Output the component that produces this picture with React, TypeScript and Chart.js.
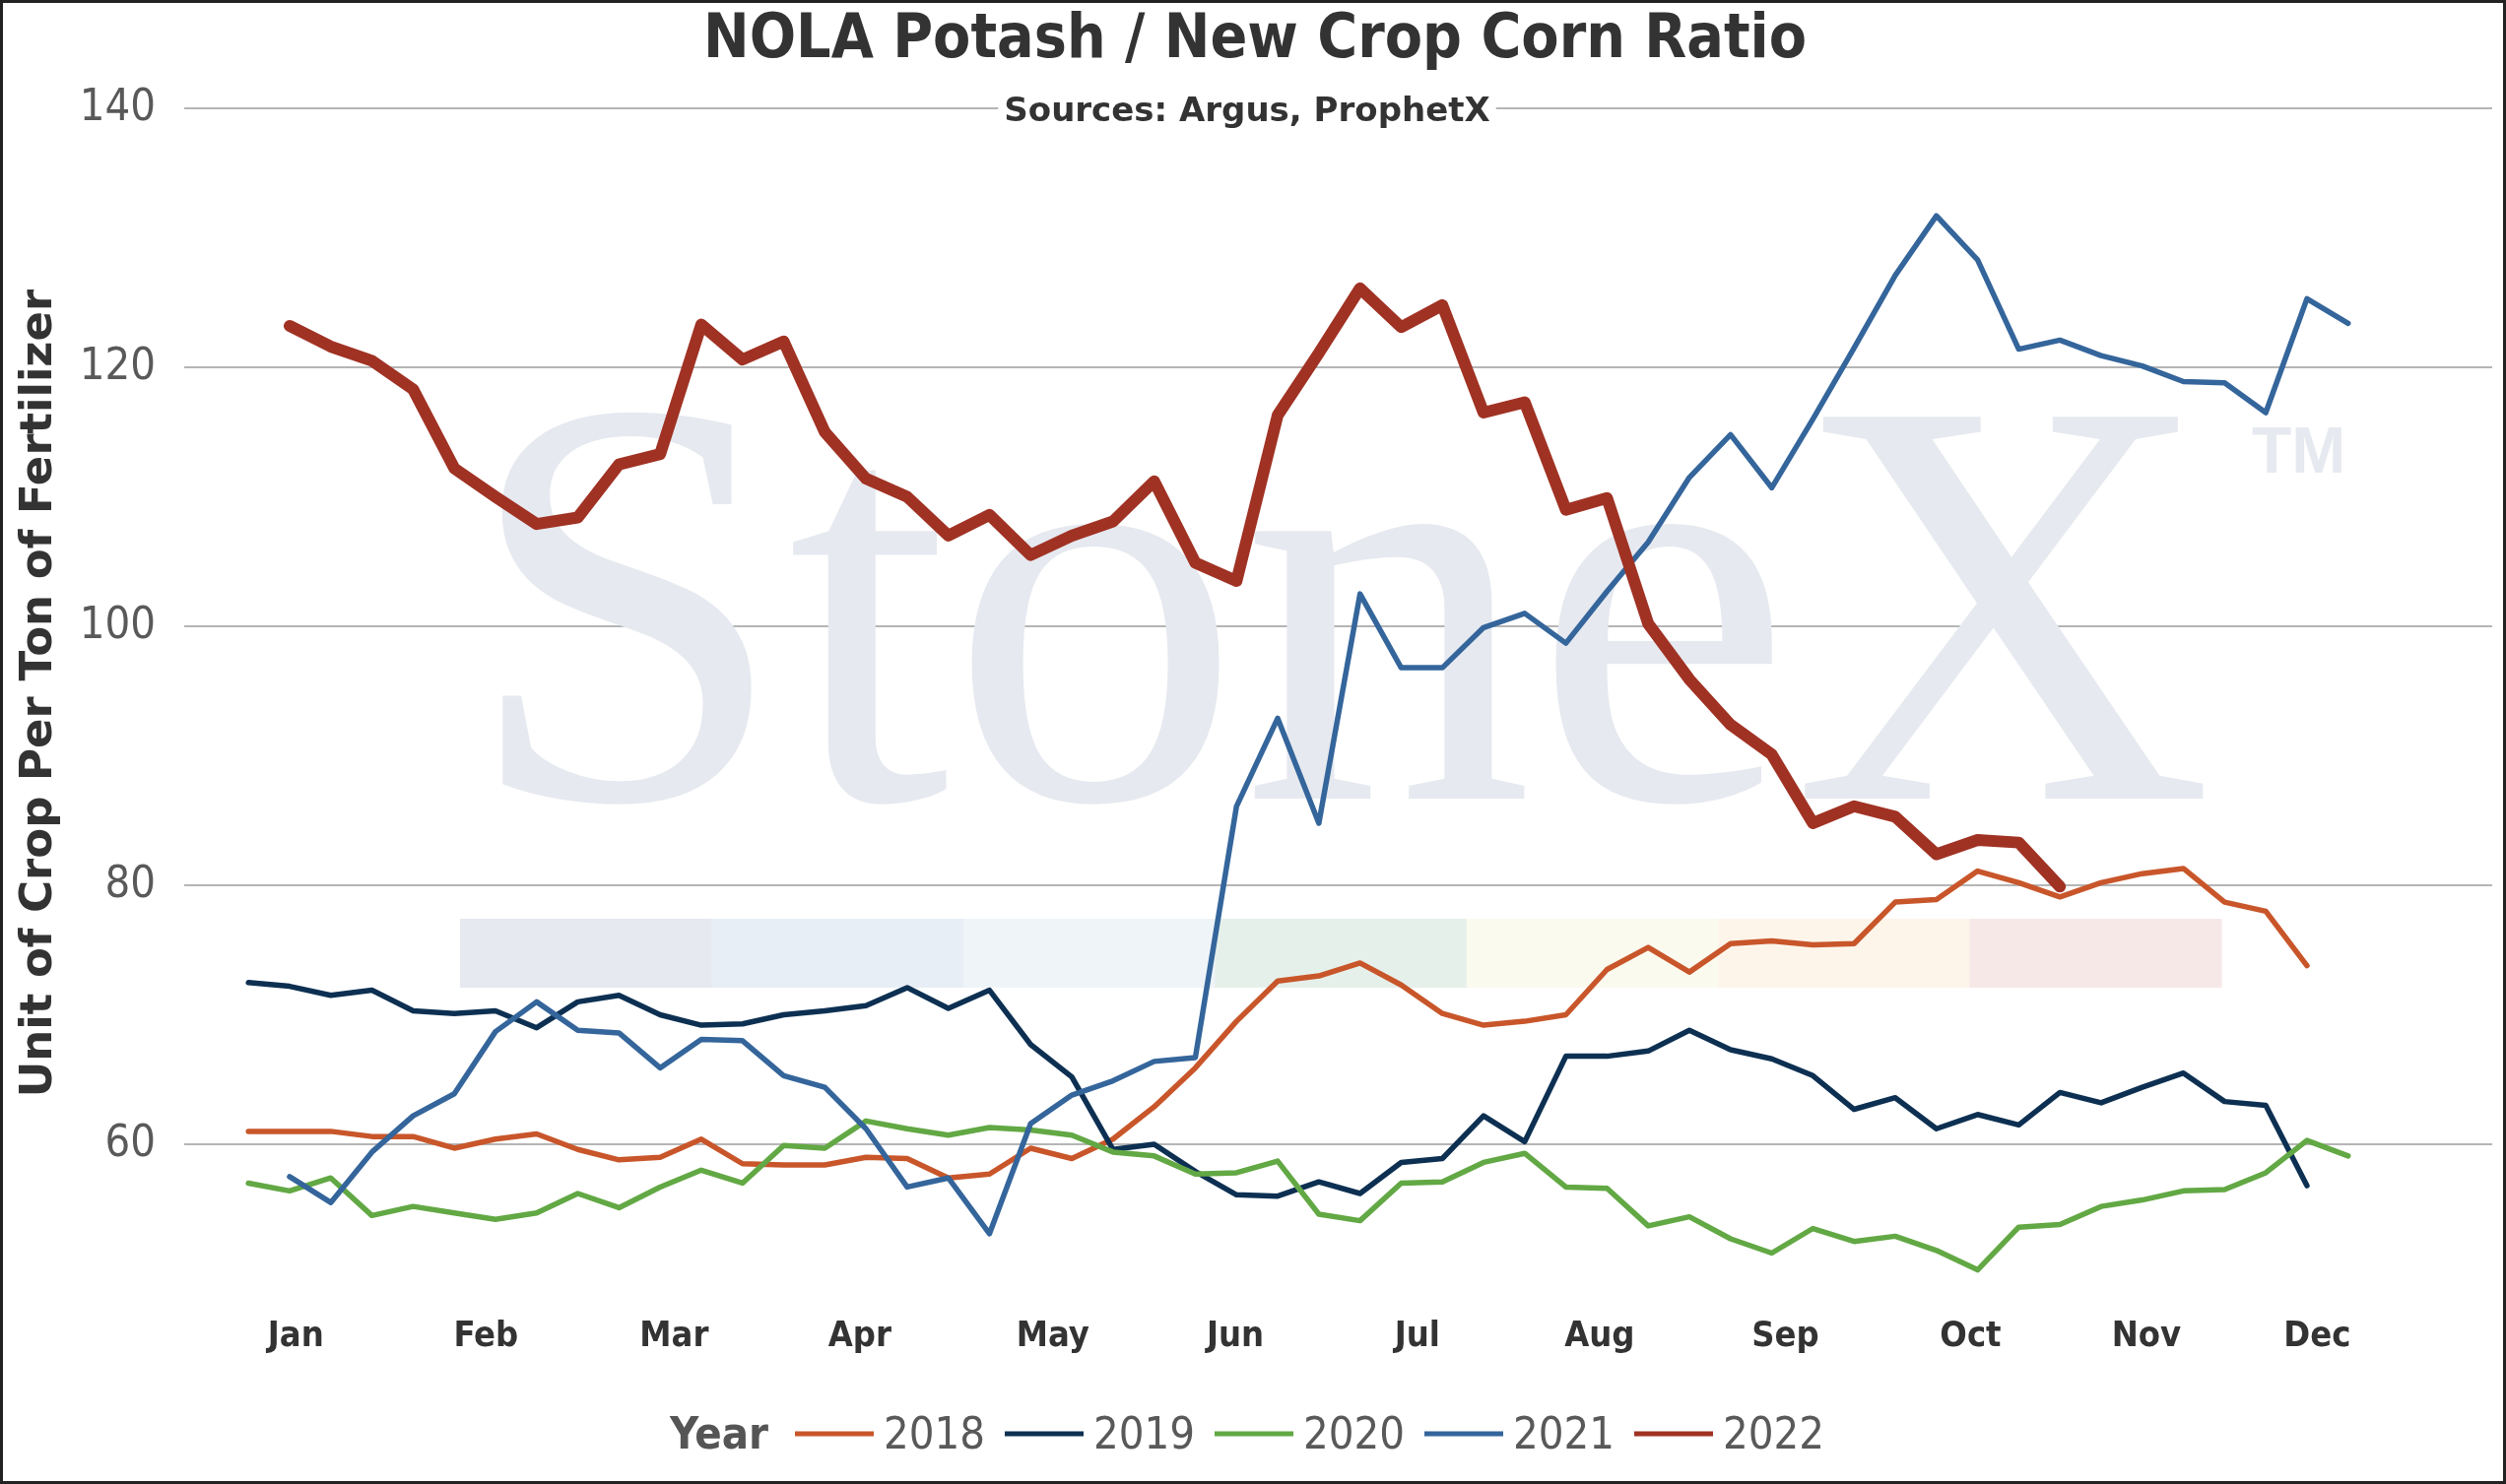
import React, { useEffect, useRef } from "react";
import { Chart, registerables } from "chart.js";
Chart.register(...registerables);

const MONTHS = ["Jan","Feb","Mar","Apr","May","Jun","Jul","Aug","Sep","Oct","Nov","Dec"];
const MONTH_POS = [1.15, 5.77, 10.34, 14.85, 19.54, 23.97, 28.39, 32.82, 37.33, 41.83, 46.1, 50.25];
const Y_TICKS = [60, 80, 100, 120, 140];
const YEARS = ["2018", "2019", "2020", "2021", "2022"];
const START_INDEX = [0, 0, 0, 1, 1];
const COLORS = ["#c8562a", "#0d3052", "#62a844", "#34659b", "#a03224"];
const WIDTHS = [5.5, 5.5, 5.5, 5.5, 12];

const s2018 = [61.0,61.0,61.0,60.6,60.6,59.7,60.4,60.8,59.6,58.8,59.0,60.4,58.5,58.4,58.4,59.0,58.9,57.4,57.7,59.7,58.9,60.4,62.9,65.9,69.5,72.6,73.0,74.0,72.3,70.1,69.2,69.5,70.0,73.5,75.2,73.3,75.5,75.7,75.4,75.5,78.7,78.9,81.1,80.2,79.1,80.2,80.9,81.3,78.7,78.0,73.8];
const s2019 = [72.5,72.2,71.5,71.9,70.3,70.1,70.3,69.0,71.0,71.5,70.0,69.2,69.3,70.0,70.3,70.7,72.1,70.5,71.9,67.7,65.2,59.6,60.0,57.9,56.1,56.0,57.1,56.2,58.6,58.9,62.2,60.2,66.8,66.8,67.2,68.8,67.3,66.6,65.3,62.7,63.6,61.2,62.3,61.5,64.0,63.2,64.4,65.5,63.3,63.0,56.8];
const s2020 = [57.0,56.4,57.4,54.5,55.2,54.7,54.2,54.7,56.2,55.1,56.7,58.0,57.0,59.9,59.7,61.8,61.2,60.7,61.3,61.1,60.7,59.4,59.1,57.7,57.8,58.7,54.6,54.1,57.0,57.1,58.6,59.3,56.7,56.6,53.7,54.4,52.7,51.6,53.5,52.5,52.9,51.8,50.3,53.6,53.8,55.2,55.7,56.4,56.5,57.8,60.3,59.1];
const s2021 = [57.5,55.5,59.4,62.2,63.9,68.7,71.0,68.8,68.6,65.9,68.1,68.0,65.3,64.4,61.2,56.7,57.4,53.1,61.6,63.8,64.9,66.4,66.7,86.1,92.9,84.8,102.5,96.8,96.8,99.9,101.0,98.7,102.7,106.5,111.5,114.8,110.7,116.0,121.5,127.1,131.7,128.3,121.4,122.1,120.9,120.1,118.9,118.8,116.5,125.3,123.4];
const s2022 = [123.2,121.6,120.5,118.3,112.2,110.0,107.9,108.4,112.5,113.3,123.3,120.6,122.0,115.0,111.4,110.0,107.0,108.6,105.5,107.0,108.1,111.2,104.9,103.5,116.3,121.1,126.1,123.1,124.8,116.5,117.3,109.0,109.9,100.2,95.9,92.4,90.1,84.8,86.1,85.3,82.4,83.5,83.3,79.9];
const SERIES = [s2018, s2019, s2020, s2021, s2022];

const BAND_COLORS = ["#e6e9ef", "#e8eef6", "#eff4f8", "#e6f0ea", "#fbfaef", "#fdf5ea", "#f7e8e8"];

const W = 2544, H = 1507;
const COND = '"DejaVu Sans Condensed", "DejaVu Sans", sans-serif';
const SANS = '"DejaVu Sans", sans-serif';

const bgPlugin = {
  id: "bg",
  beforeDatasetsDraw(chart: any) {
    const ctx = chart.ctx;
    ctx.save();
    ctx.fillStyle = "#e6e9ef";
    ctx.textBaseline = "alphabetic";
    ctx.textAlign = "left";
    let fs = 627;
    ctx.font = `${fs}px "Liberation Serif", "DejaVu Serif", serif`;
    const w = ctx.measureText("StoneX").width;
    fs = fs * 1777 / w;
    ctx.font = `${fs}px "Liberation Serif", "DejaVu Serif", serif`;
    ctx.fillText("StoneX", 470, 811);
    ctx.font = `bold 66px "Liberation Sans", sans-serif`;
    ctx.fillText("TM", 2286, 480);
    const x0 = 467, x1 = 2255, seg = (x1 - x0) / BAND_COLORS.length;
    BAND_COLORS.forEach((c, i) => {
      ctx.fillStyle = c;
      ctx.fillRect(x0 + seg * i, 933, seg + 0.5, 70);
    });
    ctx.restore();
  },
};

const textPlugin = {
  id: "texts",
  afterDraw(chart: any) {
    const ctx = chart.ctx;
    ctx.save();
    ctx.fillStyle = "#333333";
    ctx.textAlign = "center";
    ctx.textBaseline = "alphabetic";
    ctx.font = `bold 62px ${COND}`;
    ctx.fillText("NOLA Potash / New Crop Corn Ratio", 1274, 58);
    ctx.font = `bold 34px ${SANS}`;
    const sub = "Sources: Argus, ProphetX";
    const sw = ctx.measureText(sub).width;
    ctx.fillStyle = "#ffffff";
    ctx.fillRect(1266 - sw / 2 - 6, 92, sw + 12, 38);
    ctx.fillStyle = "#333333";
    ctx.fillText(sub, 1266, 123);
    ctx.save();
    ctx.translate(52, 704);
    ctx.rotate(-Math.PI / 2);
    ctx.font = `bold 45px ${SANS}`;
    ctx.fillText("Unit of Crop Per Ton of Fertilizer", 0, 0);
    ctx.restore();
    ctx.textAlign = "left";
    ctx.font = `bold 45px ${COND}`;
    ctx.fillStyle = "#555555";
    ctx.fillText("Year", 680, 1471);
    ctx.font = `45px ${COND}`;
    YEARS.forEach((y, i) => {
      const lx = 807 + 213 * i;
      ctx.strokeStyle = COLORS[i];
      ctx.lineWidth = 5;
      ctx.beginPath();
      ctx.moveTo(lx, 1456);
      ctx.lineTo(lx + 80, 1456);
      ctx.stroke();
      ctx.fillStyle = "#595959";
      ctx.fillText(y, lx + 90, 1471);
    });
    ctx.strokeStyle = "#222222";
    ctx.lineWidth = 3;
    ctx.strokeRect(1.5, 1.5, W - 3, H - 3);
    ctx.restore();
  },
};

export default function App() {
  const ref = useRef<HTMLCanvasElement>(null);
  useEffect(() => {
    document.body.style.margin = "0";
    const datasets = SERIES.map((arr, k) => ({
      label: YEARS[k],
      data: arr.map((v, i) => ({ x: START_INDEX[k] + i, y: v })),
      borderColor: COLORS[k],
      backgroundColor: COLORS[k],
      borderWidth: WIDTHS[k],
      pointRadius: 0,
      tension: 0,
      borderJoinStyle: "round" as const,
      borderCapStyle: "round" as const,
      order: k === 4 ? 0 : 5 - k,
    }));
    const chart = new Chart(ref.current!, {
      type: "line",
      data: { datasets },
      plugins: [bgPlugin, textPlugin],
      options: {
        animation: false,
        responsive: false,
        devicePixelRatio: 1,
        layout: { padding: { top: 110, right: 14, bottom: 0, left: 0 } },
        plugins: { legend: { display: false }, tooltip: { enabled: false } },
        scales: {
          x: {
            type: "linear",
            min: -1.56,
            max: 54.5,
            afterBuildTicks: (s: any) => { s.ticks = MONTH_POS.map((v) => ({ value: v })); },
            afterFit: (s: any) => { s.height = 209; },
            grid: { display: false },
            border: { display: false },
            ticks: {
              padding: 30,
              color: "#333333",
              font: { family: COND, size: 36, weight: "bold" },
              callback: (v: any) => {
                const i = MONTH_POS.findIndex((p) => Math.abs(p - v) < 0.01);
                return i >= 0 ? MONTHS[i] : "";
              },
              maxRotation: 0,
              autoSkip: false,
            },
          },
          y: {
            min: 49.66,
            max: 140,
            afterBuildTicks: (s: any) => { s.ticks = Y_TICKS.map((v) => ({ value: v })); },
            afterFit: (s: any) => { s.width = 187; },
            grid: { color: "#b5b5b5", lineWidth: 2, drawTicks: false },
            border: { display: false },
            ticks: {
              padding: 29,
              color: "#595959",
              font: { family: COND, size: 45 },
            },
          },
        },
      },
    });
    return () => chart.destroy();
  }, []);
  return (
    <div style={{ position: "absolute", left: 0, top: 0, width: W, height: H, background: "#fff" }}>
      <canvas ref={ref} width={W} height={H} style={{ width: W, height: H, display: "block" }} />
    </div>
  );
}
